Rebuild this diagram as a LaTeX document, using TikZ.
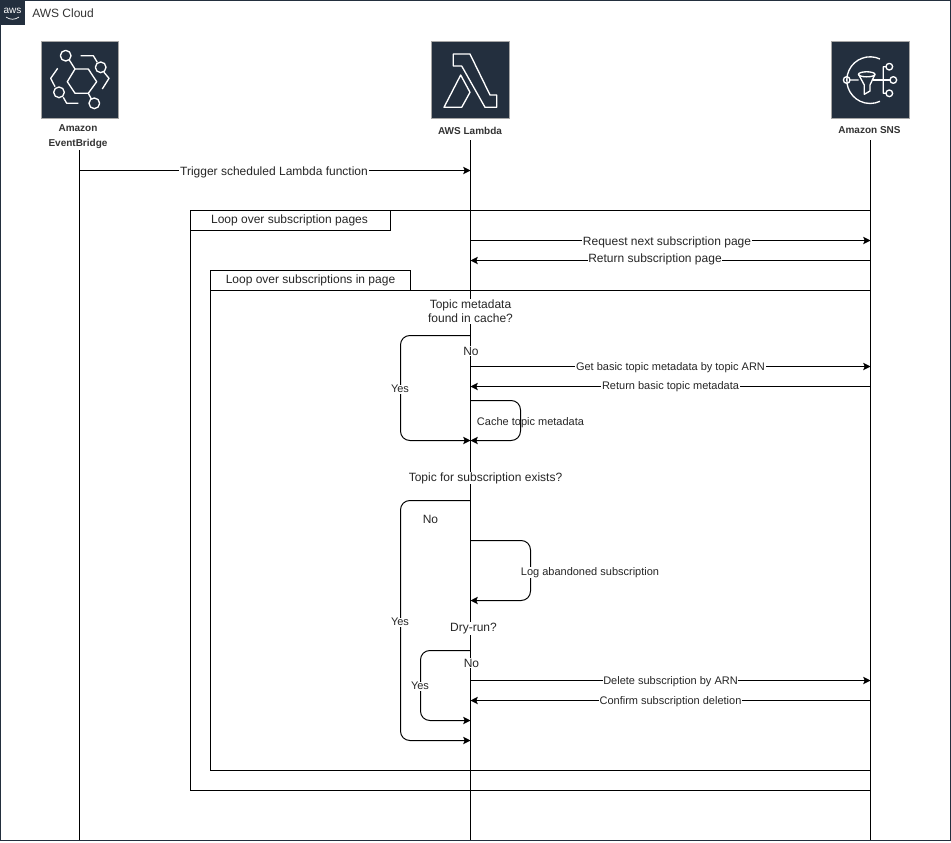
\documentclass[tikz,border=0pt]{standalone}
\usepackage{fontspec}
\setmainfont{Liberation Sans}
\usetikzlibrary{arrows.meta}

\definecolor{awsdark}{HTML}{232F3E}
\definecolor{awstext}{HTML}{333333}
\tikzset{
	lifeline/.style={draw=black, line width=0.75pt},
	msg/.style={draw=black, line width=0.75pt, -{Stealth[length=5.5pt, width=5.5pt, inset=1.2pt]}},
	elbow/.style={msg, rounded corners=7pt},
	loopframe/.style={draw=black, line width=0.75pt},
	looptab/.style={draw=black, line width=0.75pt, fill=white},
	big/.style={font=\fontsize{9}{10.8}\selectfont, text=black!85, align=center, inner sep=0.5pt},
	small/.style={font=\fontsize{8.25}{10}\selectfont, text=black!85, fill=white, inner sep=0.5pt},
	iconbox/.style={draw=gray!70, fill=awsdark, line width=0.5pt},
	iconline/.style={draw=white, line width=1pt, line join=round},
	iconname/.style={font=\fontsize{7.5}{11.25}\bfseries\selectfont, text=awstext, align=center, inner sep=0pt},
}

\begin{document}
\begin{tikzpicture}[x=0.75pt, y=-0.75pt]
	\useasboundingbox (0, 0) rectangle (951, 843);

	% cloud group
	\draw[draw=awsdark, line width=0.75pt] (0.5, 0.5) rectangle (950.5, 840.5);
	\fill[awsdark] (0, 0) rectangle (25, 25);
	\node[font=\fontsize{7.5}{8}\selectfont, text=white, inner sep=0pt] (awslogo) at (12.5, 10.5) {aws};
	\draw[white, line width=0.5pt] (6, 17) .. controls (10, 20) and (15, 20) .. (19, 17);
	\node[font=\fontsize{9}{10}\selectfont, text=black!80, anchor=west, inner sep=0pt] (cloud) at (32, 13.5) {AWS Cloud};

	% loop frames
	\draw[loopframe] (870.5, 210.5) -- (190.5, 210.5) -- (190.5, 790.5) -- (870.5, 790.5);
	\draw[looptab] (190.5, 210.5) rectangle (390.5, 230.5);
	\node[big] (outerloop) at (289.5, 220.5) {Loop over subscription pages};
	\draw[loopframe] (870.5, 290.5) -- (210.5, 290.5) -- (210.5, 770.5) -- (870.5, 770.5);
	\draw[looptab] (210.5, 270.5) rectangle (410.5, 290.5);
	\node[big] (innerloop) at (310.5, 280.5) {Loop over subscriptions in page};

	% icons
	\draw[iconbox] (41, 41) rectangle (118.5, 118.5);
	\draw[iconbox] (431.5, 41) rectangle (509, 118.5);
	\draw[iconbox] (831.5, 41) rectangle (909, 118.5);

	% eventbridge
	\draw[iconline] (67.3, 81.7) -- (75, 69) -- (88.3, 69) -- (96.7, 81.7) -- (88.3, 93.3) -- (75, 93.3) -- cycle;
	\draw[iconline] (65.7, 55.7) circle[radius=4pt] (69.3, 60) -- (75, 69);
	\draw[iconline] (80.7, 55.7) -- (93.3, 55.7) -- (97.3, 62.3);
	\draw[iconline] (100.7, 67.3) circle[radius=4pt] (104, 72.3) -- (109, 78.3) -- (102.3, 89);
	\draw[iconline] (57.7, 68.3) -- (50.7, 78.3) -- (55, 86.7);
	\draw[iconline] (59, 92.3) circle[radius=4pt] (63.3, 97.3) -- (66.7, 103.3) -- (78.3, 103.3);
	\draw[iconline] (94.3, 103.3) circle[radius=4pt] (91, 98.3) -- (88.3, 93.3);

	% lambda
	\draw[iconline] (453.3, 54) -- (470, 54) -- (490, 95) -- (496.7, 95) -- (496.7, 107.3) -- (485, 107.3) -- (461.7, 66) -- (453.3, 66) -- cycle;
	\draw[iconline] (460.7, 75) -- (444, 107.3) -- (461.7, 107.3) -- (470, 92.3) -- cycle;

	% sns
	\draw[iconline] (880, 59) arc[start angle=65, end angle=295, radius=17.5pt];
	\draw[iconline] (846.7, 80) circle[radius=2.5pt] (850, 80) -- (858.5, 80);
	\draw[iconline] (866.7, 74.3) ellipse[x radius=6.2pt, y radius=1.9pt];
	\draw[iconline] (858.5, 74.3) -- (864.3, 85) -- (864.3, 94.3) -- (870, 91) -- (870, 85) -- (875, 74.3);
	\draw[iconline] (872.5, 80) -- (890, 80);
	\draw[iconline] (889.3, 66.7) circle[radius=2.5pt] (886, 66.7) -- (883.3, 66.7) -- (883.3, 93.3) -- (886, 93.3);
	\draw[iconline] (893.3, 80) circle[radius=2.5pt];
	\draw[iconline] (889.3, 93.3) circle[radius=2.5pt];

	% participants
	\node[iconname] (eventbridge) at (78, 136.5) {Amazon\\EventBridge};
	\node[iconname] (lambda) at (470, 130.5) {AWS Lambda};
	\node[iconname] (sns) at (869.5, 130.5) {Amazon SNS};

	% lifeline ends
	\coordinate (ebtop) at (79.5, 150);
	\coordinate (ebend) at (79.5, 840);
	\coordinate (ltop) at (470.5, 140);
	\coordinate (lend) at (470.5, 840);
	\coordinate (stop) at (870.5, 140);
	\coordinate (send) at (870.5, 840);
	\draw[lifeline] (ebtop) -- (ebend);
	\draw[lifeline] (ltop) -- (lend);
	\draw[lifeline] (stop) -- (send);

	% messages
	\coordinate (eb170) at (79.5, 170.5);
	\coordinate (l170) at (470.5, 170.5);
	\coordinate (l240) at (470.5, 240.5);
	\coordinate (s240) at (870.5, 240.5);
	\coordinate (l260) at (470.5, 260.5);
	\coordinate (s260) at (870.5, 260.5);
	\coordinate (l366) at (470.5, 366.5);
	\coordinate (s366) at (870.5, 366.5);
	\coordinate (l386) at (470.5, 386.5);
	\coordinate (s386) at (870.5, 386.5);
	\coordinate (l680) at (470.5, 680.5);
	\coordinate (s680) at (870.5, 680.5);
	\coordinate (l700) at (470.5, 700.5);
	\coordinate (s700) at (870.5, 700.5);
	\draw[msg] (eb170) -- (l170);
	\draw[msg] (l240) -- (s240);
	\draw[msg] (s260) -- (l260);
	\draw[msg] (l366) -- (s366);
	\draw[msg] (s386) -- (l386);
	\draw[msg] (l680) -- (s680);
	\draw[msg] (s700) -- (l700);

	% elbows
	\coordinate (l335) at (470.5, 335.5);
	\coordinate (l440) at (470.5, 440.5);
	\coordinate (l400) at (470.5, 400.5);
	\coordinate (l500) at (470.5, 500.5);
	\coordinate (l740) at (470.5, 740.5);
	\coordinate (l540) at (470.5, 540.5);
	\coordinate (l600) at (470.5, 600.5);
	\coordinate (l650) at (470.5, 650.5);
	\coordinate (l720) at (470.5, 720.5);
	\draw[elbow] (l335) -| (400.5, 388) |- (l440);
	\draw[elbow] (l400) -| (520.5, 420) |- (l440);
	\draw[elbow] (l500) -| (400.5, 620) |- (l740);
	\draw[elbow] (l540) -| (530.5, 570) |- (l600);
	\draw[elbow] (l650) -| (420.5, 685) |- (l720);

	% labels
	\node[big, fill=white] (trigger) at (274, 172) {Trigger scheduled Lambda function};
	\node[big, fill=white] (request) at (667, 242) {Request next subscription page};
	\node[big, fill=white] (returnpage) at (655, 259) {Return subscription page};
	\node[big, fill=white] (incache) at (470.5, 311.5) {Topic metadata\\found in cache?};
	\node[big, fill=white] (no1) at (471, 351) {No};
	\node[small] (yes1) at (400, 389) {Yes};
	\node[small] (getbasic) at (670.5, 368) {Get basic topic metadata by topic ARN};
	\node[small] (retbasic) at (670.5, 386.5) {Return basic topic metadata};
	\node[small, fill=none] (cachemeta) at (530.5, 422.5) {Cache topic metadata};
	\node[big, fill=white] (exists) at (485.5, 478) {Topic for subscription exists?};
	\node[big] (no2) at (430.5, 519) {No};
	\node[small] (logaband) at (590, 572.5) {Log abandoned subscription};
	\node[small] (yes2) at (400, 622) {Yes};
	\node[big, fill=white] (dryrun) at (473.5, 628.5) {Dry-run?};
	\node[big, fill=white] (no3) at (471.5, 663) {No};
	\node[small] (yes3) at (420, 686) {Yes};
	\node[small] (delsub) at (670.5, 682) {Delete subscription by ARN};
	\node[small] (confsub) at (670.5, 702) {Confirm subscription deletion};
\end{tikzpicture}
\end{document}
